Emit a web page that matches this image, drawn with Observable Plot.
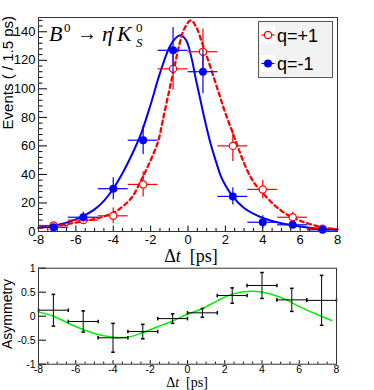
<!DOCTYPE html>
<html><head><meta charset="utf-8">
<script src="https://cdn.jsdelivr.net/npm/d3@7"></script>
<script src="https://cdn.jsdelivr.net/npm/@observablehq/plot@0.6"></script>
<style>
body{margin:0;background:#fff;}
#wrap{position:relative;width:374px;height:390px;background:#fff;overflow:hidden}
#wrap svg{position:absolute;left:0;overflow:visible;background:transparent}
</style></head><body><div id="wrap"></div>
<script>
// ---- data ----
const binCenters = [-7.2, -5.6, -4, -2.4, -0.8, 0.8, 2.4, 4, 5.6, 7.2];
const binHalfWidth = 0.8;
const qPlusEvents  = [4.2, 8, 11, 33, 114, 126, 60, 29.5, 10, 1.9];
const qPlusErr     = [2, 3, 5.5, 8.8, 15, 16, 11, 6.5, 3.5, 1.5];
const qMinusEvents = [3, 10, 30, 64, 127, 112, 24.6, 6.5, 4.7, 1.2];
const qMinusErr    = [2, 3.5, 7.7, 10, 16, 15.5, 6, 4.5, 2.5, 1];

const fitMinusT = [-8,-7,-6,-5,-4.5,-4,-3.5,-3,-2.5,-2,-1.5,-1,-0.7,-0.4,-0.1,0.2,0.4,0.6,0.85,1.2,1.5,1.75,2,2.4,3,3.5,4,5,6,7,8];
const fitMinusV = [2.5,4.5,8.5,15.5,21.5,30,41,54,69,89,111,129,135,137.5,134,121,108,96,81,62,49,39,32.5,24.5,16.5,12.5,9.5,5.8,3.5,2,1.2];
const fitPlusT = [-8,-7,-6,-5,-4.5,-4,-3.5,-3,-2.5,-2,-1.6,-1.35,-1,-0.7,-0.5,-0.2,0.15,0.45,0.76,1,1.38,1.7,2,2.4,2.7,3.2,3.6,4,4.5,5,5.5,6,7,8];
const fitPlusV = [2.5,4,6.3,8.8,10.5,13,17.5,24,36,50,63,78,99,117,129,142,148,143,132,123,108,95,83,69,58,42,33,27,20,14.5,10.5,7.5,3.5,1.5];

const asymValues = [0.125, -0.11, -0.45, -0.32, -0.05, 0.07, 0.43, 0.64, 0.34, 0.33];
const asymErr    = [0.33, 0.22, 0.30, 0.15, 0.10, 0.09, 0.16, 0.27, 0.24, 0.52];
const asymFitT = [-8,-7.2,-6.1,-5,-4,-3.6,-3,-2.4,-1.6,-0.8,0,0.8,1.6,2.4,3.4,4.3,5.2,6,7,7.75];
const asymFitV = [0.09,0,-0.2,-0.36,-0.44,-0.45,-0.42,-0.34,-0.22,-0.1,0.04,0.16,0.32,0.46,0.52,0.48,0.36,0.2,0.03,-0.09];

const xTickValues = [-8,-6,-4,-2,0,2,4,6,8];
const yTickValuesTop = [0,20,40,60,80,100,120,140];
const yTickValuesBottom = [-1,-0.5,0,0.5,1];
const legendLabels = ["q=+1", "q=-1"];

// ---- build tables ----
const plusPts = binCenters.map((x,i)=>({x, y:qPlusEvents[i], e:qPlusErr[i]}));
const minusPts = binCenters.map((x,i)=>({x, y:qMinusEvents[i], e:qMinusErr[i]}));
const fitMinus = fitMinusT.map((t,i)=>({t, v:fitMinusV[i]}));
const fitPlus = fitPlusT.map((t,i)=>({t, v:fitPlusV[i]}));
const asymPts = binCenters.map((x,i)=>({x, y:asymValues[i], e:asymErr[i]}));
const asymFit = asymFitT.map((t,i)=>({t, v:asymFitV[i]}));

const RED = "#ff0000", BLUE = "#0000ff", GREEN = "#00ee00";
const range = (a,b,s)=>d3.range(Math.round((b-a)/s)+1).map(i=>+(a+i*s).toFixed(6));
const xMinor = range(-8,8,0.5).filter(v=>!xTickValues.includes(v));
const yMinorTop = range(0,148,4).filter(v=>v%20!==0);
const fmt = d=>String(d);

const capH = {draw(ctx,size){const r=Math.sqrt(size/Math.PI);ctx.moveTo(-r,0);ctx.lineTo(r,0);}};
const capV = {draw(ctx,size){const r=Math.sqrt(size/Math.PI);ctx.moveTo(0,-r);ctx.lineTo(0,r);}};

// ---- top panel ----
const W1 = 374-38-37, H1 = 270-17-39;
const topPlot = Plot.plot({
  width: 374, height: 270,
  marginLeft: 38, marginRight: 37, marginTop: 17, marginBottom: 39,
  style: {background:"transparent", overflow:"visible", fontFamily:"Liberation Sans, Arial, sans-serif", fontSize:"13px", color:"#000"},
  x: {domain:[-8,8], ticks:xTickValues, tickSize:0, tickPadding:3, tickFormat:fmt, label:null},
  y: {domain:[0,150], ticks:yTickValuesTop, tickSize:0, tickPadding:3, tickFormat:fmt, label:null},
  marks: [
    Plot.tickY(yTickValuesTop, {y:d=>d, insetRight:W1-9, stroke:"#000"}),
    Plot.tickY(yMinorTop, {y:d=>d, insetRight:W1-4.5, stroke:"#000"}),
    Plot.tickX(xTickValues, {x:d=>d, insetTop:H1-5.5, stroke:"#000"}),
    Plot.tickX(xMinor, {x:d=>d, insetTop:H1-3, stroke:"#000"}),
    Plot.line(fitMinus, {x:"t", y:"v", stroke:BLUE, strokeWidth:2, curve:"catmull-rom"}),
    Plot.line(fitPlus, {x:"t", y:"v", stroke:RED, strokeWidth:2.3, strokeDasharray:"4,3.5", curve:"catmull-rom"}),
    Plot.ruleY(plusPts, {y:"y", x1:d=>d.x-binHalfWidth, x2:d=>d.x+binHalfWidth, stroke:RED, strokeWidth:1.2}),
    Plot.ruleX(plusPts, {x:"x", y1:d=>d.y-d.e, y2:d=>d.y+d.e, stroke:RED, strokeWidth:1.2}),
    Plot.dot(plusPts, {x:"x", y:"y", r:3.6, stroke:RED, fill:"white", strokeWidth:1.2}),
    Plot.ruleY(minusPts, {y:"y", x1:d=>d.x-binHalfWidth, x2:d=>d.x+binHalfWidth, stroke:BLUE, strokeWidth:1.2}),
    Plot.ruleX(minusPts, {x:"x", y1:d=>Math.max(0,d.y-d.e), y2:d=>d.y+d.e, stroke:BLUE, strokeWidth:1.2}),
    Plot.dot(minusPts, {x:"x", y:"y", r:4, fill:BLUE}),
    Plot.frame({stroke:"#333"})
  ]
});
topPlot.style.top = "0px";

// ---- bottom panel ----
const W2 = 374-38-38, H2 = 132-9.7-26.3;
const bottomPlot = Plot.plot({
  width: 374, height: 132,
  marginLeft: 38, marginRight: 38, marginTop: 9.7, marginBottom: 26.3,
  style: {background:"transparent", overflow:"visible", fontFamily:"Liberation Sans, Arial, sans-serif", fontSize:"10.5px", color:"#000"},
  x: {domain:[-8,8], ticks:xTickValues, tickSize:0, tickPadding:1.5, tickFormat:fmt, label:null},
  y: {domain:[-1,1], ticks:yTickValuesBottom, tickSize:0, tickPadding:3, tickFormat:fmt, label:null},
  marks: [
    Plot.tickY(yTickValuesBottom, {y:d=>d, insetRight:W2-8, stroke:"#000"}),
    Plot.tickX(xTickValues, {x:d=>d, insetTop:H2-3.5, stroke:"#000"}),
    Plot.tickX(xMinor, {x:d=>d, insetTop:H2-2, stroke:"#000"}),
    Plot.line(asymFit, {x:"t", y:"v", stroke:GREEN, strokeWidth:1.5, curve:"catmull-rom"}),
    Plot.ruleY(asymPts, {y:"y", x1:d=>d.x-binHalfWidth, x2:d=>d.x+binHalfWidth, stroke:"#000"}),
    Plot.ruleX(asymPts, {x:"x", y1:d=>d.y-d.e, y2:d=>d.y+d.e, stroke:"#000"}),
    Plot.dot(asymPts, {x:d=>d.x-binHalfWidth, y:"y", symbol:capV, r:1.8, stroke:"#000", fill:"none"}),
    Plot.dot(asymPts, {x:d=>d.x+binHalfWidth, y:"y", symbol:capV, r:1.8, stroke:"#000", fill:"none"}),
    Plot.dot(asymPts, {x:"x", y:d=>d.y+d.e, symbol:capH, r:1.8, stroke:"#000", fill:"none"}),
    Plot.dot(asymPts, {x:"x", y:d=>d.y-d.e, symbol:capH, r:1.8, stroke:"#000", fill:"none"}),
    Plot.frame({stroke:"#333"})
  ]
});
bottomPlot.style.top = "258px";

const wrap = document.getElementById("wrap");
wrap.appendChild(topPlot);
wrap.appendChild(bottomPlot);

// ---- text annotations ----
const ns = d3.select(topPlot);
const serif = "Liberation Serif, Times New Roman, serif";
// title
const tt = ns.append("text").attr("y", 41).attr("text-anchor","start").attr("font-family", serif).attr("font-size", 22).attr("fill","#000");
tt.append("tspan").attr("x",49).attr("font-style","italic").text("B");
tt.append("tspan").attr("x",64).attr("y",32).attr("font-size",13).text("0");
tt.append("tspan").attr("x",77).attr("y",40).attr("font-size",20).text("\u2192");
tt.append("tspan").attr("x",102).attr("y",41).attr("font-style","italic").text("\u03b7");
tt.append("tspan").attr("x",110.5).text("\u2032");
tt.append("tspan").attr("x",117).attr("font-style","italic").text("K");
tt.append("tspan").attr("x",136).attr("y",31.5).attr("font-size",13).text("0");
tt.append("tspan").attr("x",136).attr("y",46.5).attr("font-size",13).attr("font-style","italic").text("S");
// x label top
const xl = ns.append("text").attr("x",191).attr("y",261.5).attr("text-anchor","middle").attr("font-family",serif).attr("font-size",18).attr("fill","#000");
xl.append("tspan").text("\u0394");
xl.append("tspan").attr("font-style","italic").text("t");
xl.append("tspan").text("\u00a0\u00a0[ps]");
// y label top
ns.append("text").attr("transform","translate(13,16) rotate(-90)").attr("text-anchor","end")
  .attr("font-family","Liberation Sans, Arial, sans-serif").attr("font-size",15).attr("fill","#000").text("Events ( / 1.5 ps)");
// legend
const lg = ns.append("g");
lg.append("rect").attr("x",258.5).attr("y",21.5).attr("width",74).attr("height",56).attr("fill","#f2f2f2").attr("stroke","#555");
const ly = [35, 63.5], lc = [RED, BLUE];
ly.forEach((y,i)=>{
  lg.append("rect").attr("x",261).attr("y",y-8.5).attr("width",14).attr("height",17).attr("fill","#fff");
  lg.append("line").attr("x1",261.5).attr("x2",274.5).attr("y1",y).attr("y2",y).attr("stroke",lc[i]).attr("stroke-width",1.2);
  if (i===0) lg.append("circle").attr("cx",268).attr("cy",y).attr("r",3.6).attr("fill","#fff").attr("stroke",RED).attr("stroke-width",1.2);
  else lg.append("circle").attr("cx",268).attr("cy",y).attr("r",4).attr("fill",BLUE);
  lg.append("text").attr("x",277).attr("y",y+6.5).attr("text-anchor","start").attr("font-family","Liberation Sans, Arial, sans-serif").attr("font-size",18).attr("fill","#000").text(legendLabels[i]);
});

const nb = d3.select(bottomPlot);
const xl2 = nb.append("text").attr("x",187).attr("y",128.5).attr("text-anchor","middle").attr("font-family",serif).attr("font-size",14).attr("fill","#000");
xl2.append("tspan").text("\u0394");
xl2.append("tspan").attr("font-style","italic").text("t");
xl2.append("tspan").text("\u00a0\u00a0[ps]");
nb.append("text").attr("transform","translate(12,56) rotate(-90)").attr("text-anchor","middle")
  .attr("font-family","Liberation Sans, Arial, sans-serif").attr("font-size",14).attr("fill","#000").text("Asymmetry");
</script></body></html>
